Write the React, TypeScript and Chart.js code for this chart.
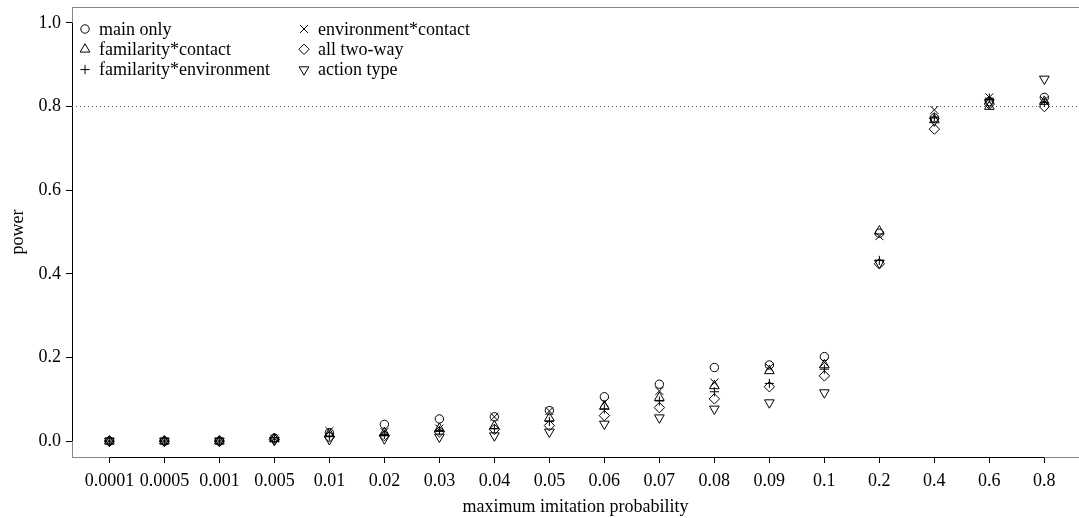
import React, { useEffect, useRef } from 'react';
import { Chart, registerables } from 'chart.js';
import { drawPoint } from 'chart.js/helpers';

Chart.register(...registerables);

const categories = ['0.0001', '0.0005', '0.001', '0.005', '0.01', '0.02', '0.03', '0.04', '0.05', '0.06', '0.07', '0.08', '0.09', '0.1', '0.2', '0.4', '0.6', '0.8'];

const mainOnly = [0, 0, 0, 0.007, 0.02, 0.04, 0.053, 0.058, 0.073, 0.106, 0.136, 0.176, 0.182, 0.202, 0.497, 0.773, 0.812, 0.822];
const famContact = [0, 0, 0, 0.006, 0.018, 0.02, 0.03, 0.036, 0.055, 0.083, 0.104, 0.132, 0.168, 0.182, 0.502, 0.768, 0.8, 0.812];
const famEnv = [0, 0, 0, 0.005, 0.012, 0.016, 0.025, 0.03, 0.047, 0.077, 0.096, 0.118, 0.138, 0.172, 0.432, 0.775, 0.82, 0.81];
const envContact = [0, 0, 0, 0.006, 0.024, 0.022, 0.03, 0.058, 0.072, 0.092, 0.12, 0.14, 0.176, 0.188, 0.49, 0.792, 0.822, 0.815];
const allTwoWay = [0, 0, 0, 0.004, 0.01, 0.013, 0.022, 0.028, 0.037, 0.061, 0.08, 0.101, 0.13, 0.156, 0.424, 0.746, 0.806, 0.8];
const actionType = [0, 0, 0, 0.002, 0.004, 0.006, 0.01, 0.013, 0.022, 0.041, 0.056, 0.077, 0.092, 0.116, 0.426, 0.766, 0.81, 0.866];

const yTicks = [0, 0.2, 0.4, 0.6, 0.8, 1.0];
const threshold = 0.8;

const FONT = '"Liberation Serif", "DejaVu Serif", serif';
const FS = 18;

const seriesDefs = [
  { label: 'main only', data: mainOnly, pointStyle: 'circle', radius: 4.2, rotation: 0 },
  { label: 'familarity*contact', data: famContact, pointStyle: 'triangle', radius: 5.6, rotation: 0 },
  { label: 'familarity*environment', data: famEnv, pointStyle: 'cross', radius: 4.6, rotation: 0 },
  { label: 'environment*contact', data: envContact, pointStyle: 'crossRot', radius: 5.6, rotation: 0 },
  { label: 'all two-way', data: allTwoWay, pointStyle: 'rectRot', radius: 5.2, rotation: 0 },
  { label: 'action type', data: actionType, pointStyle: 'triangle', radius: 5.6, rotation: 180 },
];

const X_MIN = 0.32;
const X_MAX = 18.63;
const Y_MIN = -0.038;
const Y_MAX = 1.038;

const framePlugin = {
  id: 'rframe',
  beforeDatasetsDraw(chart: any) {
    const { ctx, chartArea } = chart;
    const xs = chart.scales.x;
    const ys = chart.scales.y;
    ctx.save();
    ctx.lineWidth = 1;
    ctx.strokeStyle = '#888';
    ctx.strokeRect(chartArea.left + 0.5, chartArea.top + 0.5, chartArea.right - chartArea.left + 2, chartArea.bottom - chartArea.top);
    ctx.strokeStyle = '#000';
    ctx.beginPath();
    const by = Math.round(chartArea.bottom) + 0.5;
    ctx.moveTo(xs.getPixelForValue(1), by);
    ctx.lineTo(xs.getPixelForValue(categories.length), by);
    const lx = Math.round(chartArea.left) + 0.5;
    ctx.moveTo(lx, ys.getPixelForValue(yTicks[0]));
    ctx.lineTo(lx, ys.getPixelForValue(yTicks[yTicks.length - 1]));
    ctx.stroke();
    ctx.restore();
  },
  afterDraw(chart: any) {
    const { ctx, chartArea } = chart;
    ctx.save();
    ctx.font = `${FS}px ${FONT}`;
    ctx.textBaseline = 'middle';
    ctx.textAlign = 'left';
    ctx.fillStyle = '#000';
    seriesDefs.forEach((s, i) => {
      const col = Math.floor(i / 3);
      const row = i % 3;
      const sx = chartArea.left + 13 + col * 219;
      const tx = chartArea.left + 27 + col * 219;
      const y = chartArea.top + 22 + row * 20.3;
      ctx.save();
      ctx.strokeStyle = '#000';
      ctx.fillStyle = 'rgba(0,0,0,0)';
      ctx.lineWidth = 1;
      drawPoint(ctx, { pointStyle: s.pointStyle, rotation: s.rotation, radius: s.radius, borderWidth: 1 } as any, sx, y);
      ctx.restore();
      ctx.fillText(s.label, tx, y + 1);
    });
    ctx.restore();
  },
};

export default function App() {
  const ref = useRef<HTMLCanvasElement | null>(null);
  useEffect(() => {
    document.body.style.margin = '0';
    if (!ref.current) return;
    const datasets: any[] = seriesDefs.map((s) => ({
      type: 'scatter',
      label: s.label,
      data: s.data.map((v, i) => ({ x: i + 1, y: v })),
      pointStyle: s.pointStyle,
      pointRadius: s.radius,
      pointRotation: s.rotation,
      borderColor: '#000',
      backgroundColor: 'rgba(0,0,0,0)',
      borderWidth: 1,
      pointBorderWidth: 1,
    }));
    datasets.push({
      type: 'line',
      label: 'threshold',
      data: [{ x: X_MIN, y: threshold }, { x: X_MAX, y: threshold }],
      borderColor: '#555',
      borderWidth: 1,
      borderDash: [1, 3],
      pointRadius: 0,
      fill: false,
    });
    const chart = new Chart(ref.current, {
      type: 'scatter',
      data: { datasets },
      options: {
        animation: false,
        responsive: false,
        events: [],
        layout: { autoPadding: false, padding: { top: 7, left: 0, right: 0, bottom: 0 } },
        plugins: { legend: { display: false }, tooltip: { enabled: false } },
        scales: {
          x: {
            type: 'linear',
            min: X_MIN,
            max: X_MAX,
            afterBuildTicks: (scale: any) => {
              scale.ticks = categories.map((_, i) => ({ value: i + 1 }));
            },
            afterFit: (scale: any) => {
              scale.height = 61;
              scale.paddingLeft = 0;
              scale.paddingRight = 0;
              scale.paddingTop = 0;
              scale.paddingBottom = 0;
            },
            ticks: {
              autoSkip: false,
              maxRotation: 0,
              minRotation: 0,
              padding: 7,
              color: '#000',
              font: { family: FONT, size: FS },
              callback: (v: any) => categories[Math.round(Number(v)) - 1] ?? '',
            },
            grid: { display: true, drawOnChartArea: false, drawTicks: true, tickLength: 6, color: '#000' },
            border: { display: false },
            title: {
              display: true,
              text: 'maximum imitation probability',
              color: '#000',
              font: { family: FONT, size: FS },
              padding: { top: 0, bottom: 0 },
            },
          },
          y: {
            type: 'linear',
            min: Y_MIN,
            max: Y_MAX,
            afterBuildTicks: (scale: any) => {
              scale.ticks = yTicks.map((v) => ({ value: v }));
            },
            afterFit: (scale: any) => {
              scale.width = 72;
              scale.paddingLeft = 0;
              scale.paddingRight = 0;
              scale.paddingTop = 0;
              scale.paddingBottom = 0;
            },
            ticks: {
              padding: 5,
              color: '#000',
              font: { family: FONT, size: FS },
              callback: (v: any) => Number(v).toFixed(1),
            },
            grid: { display: true, drawOnChartArea: false, drawTicks: true, tickLength: 6, color: '#000' },
            border: { display: false },
            title: {
              display: true,
              text: 'power',
              color: '#000',
              font: { family: FONT, size: FS },
              padding: { top: 7, bottom: 0 },
            },
          },
        },
      } as any,
      plugins: [framePlugin],
    });
    return () => chart.destroy();
  }, []);
  return <canvas ref={ref} width={1079} height={518} style={{ display: 'block', width: '1079px', height: '518px' }} />;
}
